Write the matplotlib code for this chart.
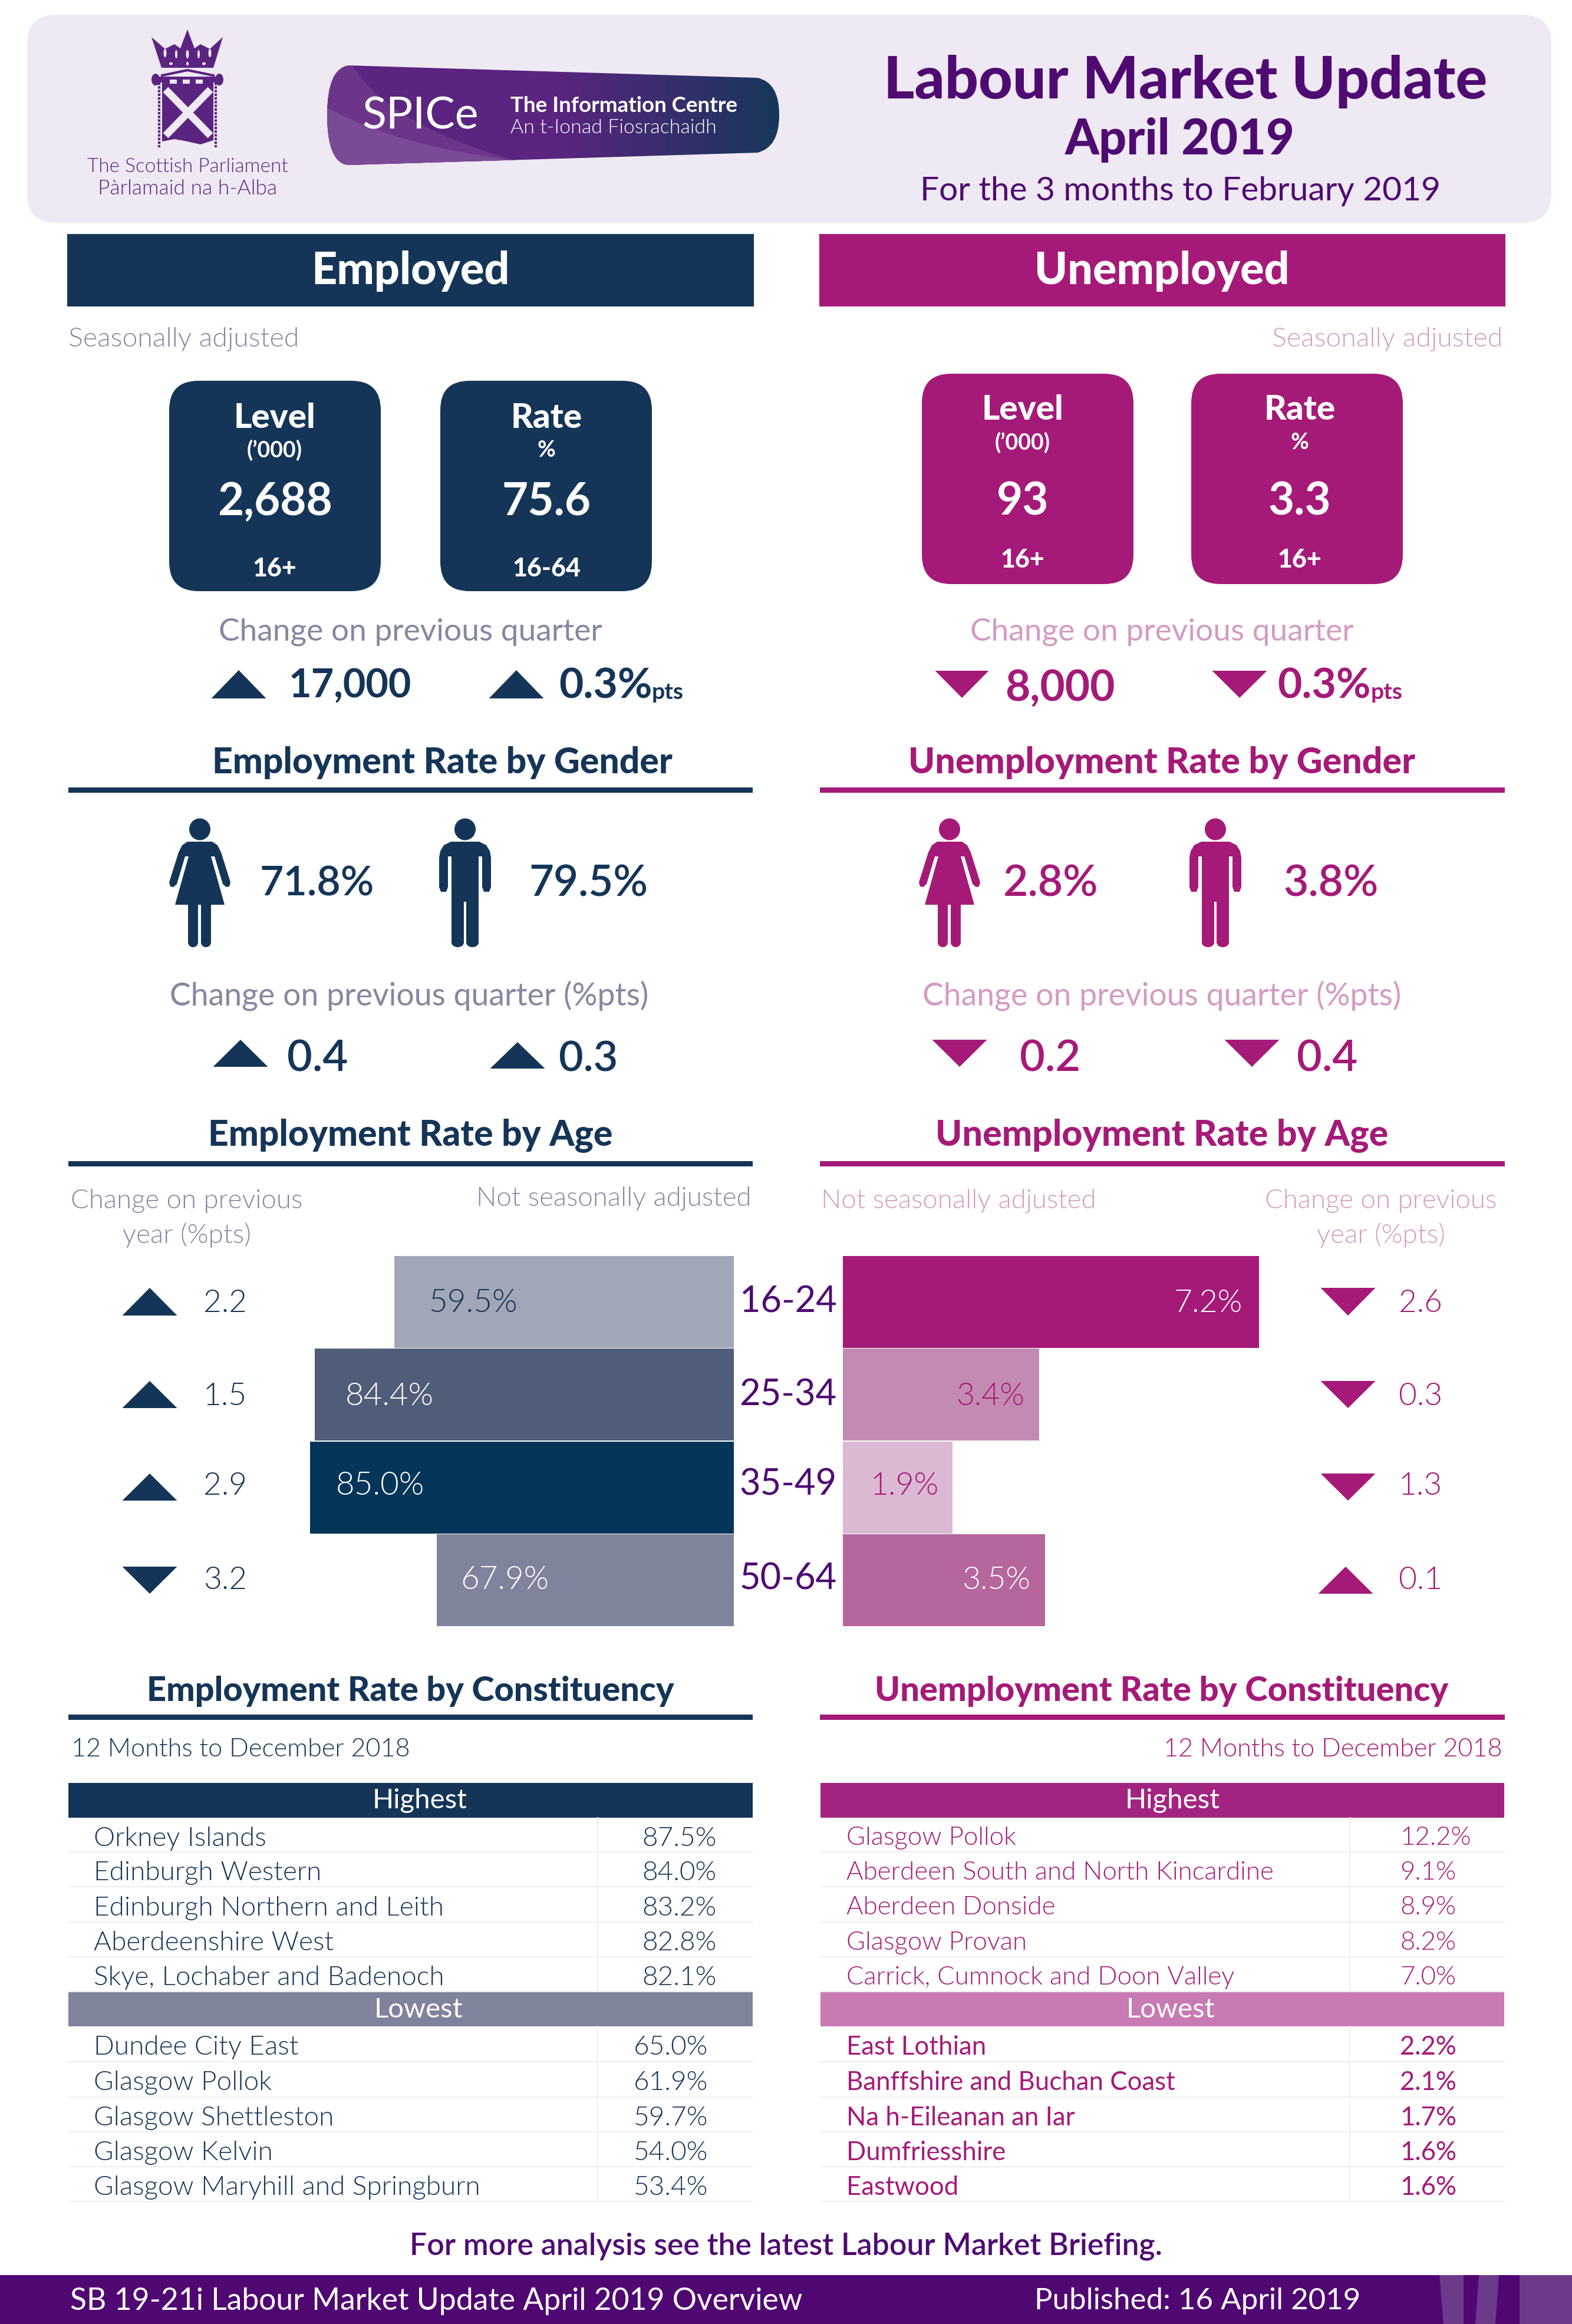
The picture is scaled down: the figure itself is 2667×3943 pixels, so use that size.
import os
import numpy as np
import matplotlib
matplotlib.use("Agg")
import matplotlib.pyplot as plt
from matplotlib import font_manager
from matplotlib.font_manager import FontProperties
from matplotlib.patches import FancyBboxPatch, Polygon, Rectangle, Ellipse, PathPatch
from matplotlib.path import Path
from matplotlib.colors import LinearSegmentedColormap

plt.rcParams["font.family"] = ["Lato", "DejaVu Sans"]

# ---------------------------------------------------------
# data
# ---------------------------------------------------------

emp_level = "2,688"
emp_rate = "75.6"
unemp_level = "93"
unemp_rate = "3.3"

emp_gender = ["71.8%", "79.5%"]
unemp_gender = ["2.8%", "3.8%"]
emp_gender_change = [0.4, 0.3]
unemp_gender_change = [-0.2, -0.4]

age_groups = ["16-24", "25-34", "35-49", "50-64"]

# bar lengths as drawn, the printed labels of the first and last row differ from them
emp_age_bars = [68.1, 84.0, 85.0, 59.6]
emp_age_labels = ["59.5%", "84.4%", "85.0%", "67.9%"]
emp_age_change = [2.2, 1.5, 2.9, -3.2]

unemp_age_bars = [7.2, 3.4, 1.9, 3.5]
unemp_age_labels = ["7.2%", "3.4%", "1.9%", "3.5%"]
unemp_age_change = [-2.6, -0.3, -1.3, 0.1]

emp_high_names = ["Orkney Islands", "Edinburgh Western", "Edinburgh Northern and Leith",
                  "Aberdeenshire West", "Skye, Lochaber and Badenoch"]
emp_high_vals = ["87.5%", "84.0%", "83.2%", "82.8%", "82.1%"]
emp_low_names = ["Dundee City East", "Glasgow Pollok", "Glasgow Shettleston",
                 "Glasgow Kelvin", "Glasgow Maryhill and Springburn"]
emp_low_vals = ["65.0%", "61.9%", "59.7%", "54.0%", "53.4%"]

unemp_high_names = ["Glasgow Pollok", "Aberdeen South and North Kincardine", "Aberdeen Donside",
                    "Glasgow Provan", "Carrick, Cumnock and Doon Valley"]
unemp_high_vals = ["12.2%", "9.1%", "8.9%", "8.2%", "7.0%"]
unemp_low_names = ["East Lothian", "Banffshire and Buchan Coast", "Na h-Eileanan an Iar",
                   "Dumfriesshire", "Eastwood"]
unemp_low_vals = ["2.2%", "2.1%", "1.7%", "1.6%", "1.6%"]

# colours
NAVY = "#143557"
MAGENTA = "#A51A78"
PURPLE = "#4F0B72"
LOGO = "#5B2480"
GREY = "#8488A0"
PINK = "#D49BC4"
emp_bar_colors = ["#A2A7B7", "#4F5D79", "#053558", "#80839C"]
unemp_bar_colors = ["#A51A78", "#C48BB2", "#DBB9D2", "#B5669C"]

# Lato weights by file, asking for "light" by name lands on the hairline cut
font_files = {}
for entry in font_manager.fontManager.ttflist:
    font_files[os.path.basename(entry.fname)] = entry.fname
WEIGHT_FILES = {"light": "Lato-Light.ttf", "medium": "Lato-Medium.ttf", "semibold": "Lato-Semibold.ttf",
                "black": "Lato-Heavy.ttf"}

# ---------------------------------------------------------
# page, one overlay axes in pixel units
# ---------------------------------------------------------

fig = plt.figure(figsize=(26.67, 39.43), dpi=100, facecolor="white")
ax = fig.add_axes([0, 0, 1, 1], zorder=5)
ax.set_axis_off()
renderer = fig.canvas.get_renderer()


def txt(x, y, s, size=30, color=NAVY, ha="left", weight="normal", w=None):
    y = y + 5
    fname = font_files.get(WEIGHT_FILES.get(weight, ""))
    if fname:
        t = ax.text(x, y, s, color=color, ha=ha, va="center", fontproperties=FontProperties(fname=fname, size=size))
    else:
        fallback = "normal" if weight in WEIGHT_FILES else weight
        t = ax.text(x, y, s, fontsize=size, color=color, ha=ha, va="center", fontweight=fallback)
    if w is not None:
        # scale the font so the string covers the width seen in the picture
        have = t.get_window_extent(renderer).width
        t.set_fontsize(size * w / have)
    return t


def tri(cx, y0, y1, width, up, color):
    if up:
        pts = [(cx - width / 2, y1), (cx + width / 2, y1), (cx, y0)]
    else:
        pts = [(cx - width / 2, y0), (cx + width / 2, y0), (cx, y1)]
    ax.add_patch(Polygon(pts, closed=True, fc=color, ec="none"))


def box(x0, y0, x1, y1, color, r=50):
    ax.add_patch(FancyBboxPatch((x0 + r, y0 + r), x1 - x0 - 2 * r, y1 - y0 - 2 * r,
                                boxstyle=f"round,pad={r},rounding_size={r}", fc=color, ec="none"))


def rect(x0, y0, x1, y1, color):
    ax.add_patch(Rectangle((x0, y0), x1 - x0, y1 - y0, fc=color, ec="none"))


def leg(x0, x1, y0, y1, color):
    rect(x0, y0, x1, y1 - 8, color)
    ax.add_patch(Ellipse(((x0 + x1) / 2, y1 - 8), x1 - x0, 16, fc=color, ec="none"))


def woman(cx, color):
    ax.add_patch(Ellipse((cx, 1407), 36, 37, fc=color, ec="none"))
    half = [(0, 1428), (21, 1428), (30, 1434), (36, 1446), (52, 1497), (50, 1504), (45, 1505),
            (39, 1500), (25, 1453), (19, 1453), (42, 1535)]
    right = [(cx + dx, y) for dx, y in half]
    left = [(cx - dx, y) for dx, y in half[::-1]]
    ax.add_patch(Polygon(right + left[:-1], closed=True, fc=color, ec="none"))
    leg(cx - 20, cx - 3, 1530, 1607, color)
    leg(cx + 2, cx + 19, 1530, 1607, color)


def man(cx, color):
    ax.add_patch(Ellipse((cx, 1407), 36, 37, fc=color, ec="none"))
    half = [(0, 1428), (24, 1428), (36, 1434), (42, 1444), (44, 1455), (44, 1505), (41, 1513), (32, 1513),
            (29, 1505), (29, 1453), (23, 1453), (23, 1530)]
    right = [(cx + dx, y) for dx, y in half]
    left = [(cx - dx, y) for dx, y in half[::-1]]
    ax.add_patch(Polygon(right + left[:-1], closed=True, fc=color, ec="none"))
    leg(cx - 23, cx - 2, 1513, 1607, color)
    leg(cx + 2, cx + 23, 1513, 1607, color)


# ---------------------------------------------------------
# header panel and logos
# ---------------------------------------------------------

box(46, 25, 2632, 378, "#EFE9F4", r=50)

# crown
crown = [(257, 63), (280, 83), (296, 75), (306, 82), (318, 50), (330, 82), (340, 75), (356, 83), (378, 63),
         (362, 115), (274, 115)]
ax.add_patch(Polygon(crown, closed=True, fc=LOGO, ec="none"))
for dx, dy, rx, ry in [(-38, 90, 5, 9), (-19, 92, 4, 9), (0, 92, 5, 9), (19, 92, 4, 9), (38, 90, 5, 9),
                       (-28, 108, 6, 3), (0, 108, 4, 4), (28, 108, 6, 3)]:
    ax.add_patch(Ellipse((318 + dx, dy), rx, ry * 1.6, fc="#EFE9F4", ec="none"))
ax.plot([275, 318, 362], [128, 119, 128], color=LOGO, lw=3)
rect(266, 130, 370, 140, LOGO)
for x in [264, 372]:
    ax.add_patch(Ellipse((x, 135), 14, 20, fc=LOGO, ec="none"))
    ax.plot([x + (6 if x < 300 else -6)] * 2, [140, 250], color=LOGO, lw=3, ls=(0, (1, 0.5)))
ax.add_patch(Polygon([(275, 135), (362, 135), (362, 238), (340, 245), (318, 240), (296, 236), (275, 240)],
                     closed=True, fc=LOGO, ec="none"))
for x in [288, 310, 332]:
    rect(x, 135, x + 12, 142, "#EFE9F4")
ax.plot([281, 357], [152, 230], color="#EFE9F4", lw=9, solid_capstyle="butt")
ax.plot([357, 281], [152, 230], color="#EFE9F4", lw=9, solid_capstyle="butt")
txt(318, 278, "The Scottish Parliament", color=LOGO, ha="center", weight="light", w=340)
txt(318, 315, "Pàrlamaid na h-Alba", color=LOGO, ha="center", weight="light", w=303)

# spice banner
verts = [(592, 111), (1285, 132), (1322, 140), (1322, 195), (1322, 250), (1285, 259), (590, 280),
         (555, 275), (555, 195), (555, 116), (592, 111)]
codes = [Path.MOVETO, Path.LINETO, Path.CURVE3, Path.CURVE3, Path.CURVE3, Path.CURVE3, Path.LINETO,
         Path.CURVE3, Path.CURVE3, Path.CURVE3, Path.CURVE3]
banner = PathPatch(Path(verts, codes), fc="none", ec="none")
ax.add_patch(banner)
spice_cmap = LinearSegmentedColormap.from_list("spice", ["#5B2480", "#5B2480", "#17375A"])
im = ax.imshow(np.linspace(0, 1, 256).reshape(1, -1), cmap=spice_cmap, extent=(555, 1322, 280, 111),
               aspect="auto", zorder=2)
im.set_clip_path(banner)
shade = PathPatch(Path([(555, 100), (592, 100), (650, 210), (875, 272), (555, 290), (555, 100)],
                       [Path.MOVETO, Path.LINETO, Path.CURVE3, Path.CURVE3, Path.LINETO, Path.CLOSEPOLY]),
                  fc="#6C3589", ec="none", zorder=2.1)
ax.add_patch(shade)
shade.set_clip_path(banner)
shade2 = PathPatch(Path([(555, 183), (680, 250), (875, 272), (555, 290), (555, 183)],
                        [Path.MOVETO, Path.CURVE3, Path.CURVE3, Path.LINETO, Path.CLOSEPOLY]),
                   fc="#7B4A97", ec="none", zorder=2.2)
ax.add_patch(shade2)
shade2.set_clip_path(banner)
txt(615, 192, "SPICe", color="white", w=197)
txt(866, 175, "The Information Centre", color="white", weight="bold", w=386)
txt(866, 212, "An t-Ionad Fiosrachaidh", color="white", weight="light", w=350)

txt(2011, 133, "Labour Market Update", color=PURPLE, ha="center", weight="black", w=1023)
txt(2002, 233, "April 2019", color=PURPLE, ha="center", weight="black", w=390)
txt(2002, 319, "For the 3 months to February 2019", color=PURPLE, ha="center", w=882)

# ---------------------------------------------------------
# top blocks
# ---------------------------------------------------------

rect(114, 397, 1279, 520, NAVY)
rect(1390, 397, 2554, 520, MAGENTA)
txt(696, 455, "Employed", color="white", ha="center", weight="black", w=336)
txt(1971, 455, "Unemployed", color="white", ha="center", weight="black", w=432)

txt(116, 570, "Seasonally adjusted", color=GREY, weight="light", w=390)
txt(2550, 570, "Seasonally adjusted", color=PINK, ha="right", weight="light", w=390)


def stat_card(x0, x1, y0, color, title, sub, value, base, cx, ys):
    box(x0, y0, x1, y0 + 357, color, r=50)
    txt(cx, ys[0], title, color="white", ha="center", weight="black", size=42)
    txt(cx, ys[1], sub, color="white", ha="center", weight="bold", size=27)
    txt(cx, ys[2], value, color="white", ha="center", weight="bold", size=55)
    txt(cx, ys[3], base, color="white", ha="center", weight="black", size=31)


stat_card(287, 646, 646, NAVY, "Level", "(’000)", emp_level, "16+", 466, (704, 759, 847, 960))
stat_card(747, 1106, 646, NAVY, "Rate", "%", emp_rate, "16-64", 927, (704, 759, 847, 960))
stat_card(1564, 1923, 634, MAGENTA, "Level", "(’000)", unemp_level, "16+", 1735, (691, 746, 847, 945))
stat_card(2021, 2380, 634, MAGENTA, "Rate", "%", unemp_rate, "16+", 2205, (691, 746, 847, 945))

txt(696, 1067, "Change on previous quarter", color=GREY, ha="center", w=650)
txt(1971, 1067, "Change on previous quarter", color=PINK, ha="center", w=650)

tri(405, 1137, 1185, 93, True, NAVY)
txt(490, 1159, "17,000", weight="bold", w=208)
tri(876, 1137, 1185, 93, True, NAVY)
txt(948, 1159, "0.3%", weight="bold", w=158)
txt(1106, 1170, "pts", weight="bold", w=54)

tri(1632, 1138, 1184, 91, False, MAGENTA)
txt(1705, 1163, "8,000", color=MAGENTA, weight="bold", w=186)
tri(2103, 1138, 1184, 93, False, MAGENTA)
txt(2167, 1159, "0.3%", color=MAGENTA, weight="bold", w=158)
txt(2326, 1170, "pts", color=MAGENTA, weight="bold", w=54)


def heading(s, cx, y, color, w, rule_y, x0, x1):
    txt(cx, y - 1, s, color=color, ha="center", weight="black", w=w)
    rect(x0, rule_y - 4, x1, rule_y + 5, color)


heading("Employment Rate by Gender", 750, 1290, NAVY, 778, 1340, 116, 1277)
heading("Unemployment Rate by Gender", 1971, 1290, MAGENTA, 858, 1340, 1391, 2553)

woman(339, NAVY)
man(789, NAVY)
woman(1611, MAGENTA)
man(2062, MAGENTA)

txt(440, 1495, emp_gender[0], weight="semibold", w=194)
txt(897, 1495, emp_gender[1], weight="semibold", w=202)
txt(1702, 1495, unemp_gender[0], color=MAGENTA, weight="semibold", w=161)
txt(2177, 1495, unemp_gender[1], color=MAGENTA, weight="semibold", w=161)

txt(694, 1684, "Change on previous quarter (%pts)", color=GREY, ha="center", w=812)
txt(1971, 1684, "Change on previous quarter (%pts)", color=PINK, ha="center", w=812)


def change(cx, y0, y1, tx, val, color, w):
    tri(cx, y0, y1, 93, val > 0, color)
    txt(tx, 1792, f"{abs(val):.1f}", color=color, weight="semibold", w=w)


change(408, 1764, 1810, 487, emp_gender_change[0], NAVY, 103)
change(878, 1768, 1813, 948, emp_gender_change[1], NAVY, 100)
change(1628, 1764, 1810, 1730, unemp_gender_change[0], MAGENTA, 103)
change(2124, 1764, 1810, 2200, unemp_gender_change[1], MAGENTA, 103)

# ---------------------------------------------------------
# age block, the bars are real bar charts on their own scales
# ---------------------------------------------------------

heading("Employment Rate by Age", 696, 1923, NAVY, 684, 1974, 116, 1277)
heading("Unemployment Rate by Age", 1971, 1923, MAGENTA, 765, 1974, 1391, 2553)

txt(317, 2033, "Change on previous", color=GREY, ha="center", weight="light", w=392)
txt(317, 2091, "year (%pts)", color=GREY, ha="center", weight="light", w=218)
txt(1275, 2028, "Not seasonally adjusted", color=GREY, ha="right", weight="light", w=467)
txt(1393, 2033, "Not seasonally adjusted", color=PINK, weight="light", w=467)
txt(2343, 2033, "Change on previous", color=PINK, ha="center", weight="light", w=392)
txt(2343, 2091, "year (%pts)", color=PINK, ha="center", weight="light", w=218)

PAGE_W, PAGE_H = 2667, 3943
BAR_TOP, BAR_BOTTOM = 2130, 2760


def bar_axes(x0, x1):
    a = fig.add_axes([x0 / PAGE_W, 1 - BAR_BOTTOM / PAGE_H, (x1 - x0) / PAGE_W, (BAR_BOTTOM - BAR_TOP) / PAGE_H],
                     zorder=1)
    a.set_axis_off()
    return a


ax_emp = bar_axes(399, 1245)
ax_emp.barh(age_groups, emp_age_bars, height=0.99, color=emp_bar_colors)
ax_emp.set_xlim(100, 0)
ax_emp.set_ylim(3.5, -0.5)

ax_unemp = bar_axes(1430, 2214)
ax_unemp.barh(age_groups, unemp_age_bars, height=0.99, color=unemp_bar_colors)
ax_unemp.set_xlim(0, 8)
ax_unemp.set_ylim(3.5, -0.5)

row_y = [2206, 2364, 2516, 2676]
tri_y = [(2185, 2232), (2343, 2389), (2500, 2546), (2658, 2704)]
emp_label_x = [727, 586, 570, 781]
emp_label_colors = [NAVY, "white", "white", "white"]
unemp_label_right = [2108, 1738, 1593, 1748]
unemp_label_colors = ["white", MAGENTA, MAGENTA, "white"]

for i in range(4):
    txt(emp_label_x[i], row_y[i], emp_age_labels[i], color=emp_label_colors[i], weight="light", w=150)
    txt(unemp_label_right[i], row_y[i], unemp_age_labels[i], color=unemp_label_colors[i], ha="right",
        weight="light", w=116)
    txt(1337, row_y[i] - 2, age_groups[i], color=PURPLE, ha="center", w=165)

    up = emp_age_change[i] > 0
    tri(254, tri_y[i][0], tri_y[i][1], 93, up, NAVY)
    txt(345, row_y[i], f"{abs(emp_age_change[i]):.1f}", weight="light", w=74)

    up = unemp_age_change[i] > 0
    tri(2283 if up else 2287, tri_y[i][0], tri_y[i][1], 93, up, MAGENTA)
    txt(2373, row_y[i], f"{abs(unemp_age_change[i]):.1f}", color=MAGENTA, weight="light", w=74)

# ---------------------------------------------------------
# constituency tables
# ---------------------------------------------------------

heading("Employment Rate by Constituency", 696, 2866, NAVY, 892, 2913, 116, 1277)
heading("Unemployment Rate by Constituency", 1971, 2866, MAGENTA, 972, 2913, 1391, 2553)
txt(121, 2964, "12 Months to December 2018", weight="light", w=575)
txt(2549, 2964, "12 Months to December 2018", color=MAGENTA, ha="right", weight="light", w=575)


def table_part(y_rows, names, vals, x0, x1, div, xname, xval, val_ha, color, weight, size):
    for j in range(5):
        y0, y1 = y_rows[j], y_rows[j + 1]
        ax.plot([x0, x1], [y1, y1], color="#F0EDF2", lw=1.5)
        txt(xname, (y0 + y1) / 2 + 1, names[j], size=size, color=color, weight=weight)
        txt(xval, (y0 + y1) / 2 + 1, vals[j], size=size, color=color, ha=val_ha, weight=weight)
    ax.plot([div, div], [y_rows[0], y_rows[5]], color="#F0EDF2", lw=1.5)


high_rows = [3084, 3142, 3201, 3261, 3320, 3379]
low_rows = [3438, 3498, 3558, 3617, 3676, 3735]

rect(116, 3025, 1277, 3084, NAVY)
txt(712, 3050, "Highest", color="white", ha="center", size=34)
rect(116, 3379, 1277, 3438, "#80839C")
txt(710, 3405, "Lowest", color="white", ha="center", size=34)
table_part(high_rows, emp_high_names, emp_high_vals, 116, 1277, 1014, 159, 1089, "left", NAVY, "light", 33)
table_part(low_rows, emp_low_names, emp_low_vals, 116, 1277, 1014, 159, 1201, "right", NAVY, "light", 33)

rect(1392, 3025, 2552, 3084, "#A32480")
txt(1989, 3050, "Highest", color="white", ha="center", size=34)
rect(1392, 3379, 2552, 3438, "#C87AB3")
txt(1986, 3405, "Lowest", color="white", ha="center", size=34)
table_part(high_rows, unemp_high_names, unemp_high_vals, 1392, 2552, 2290, 1436, 2375, "left", MAGENTA, "light", 31.5)
table_part(low_rows, unemp_low_names, unemp_low_vals, 1392, 2552, 2290, 1436, 2375, "left", MAGENTA, "normal", 31.5)

# ---------------------------------------------------------
# footer
# ---------------------------------------------------------

txt(1333, 3806, "For more analysis see the latest Labour Market Briefing.", color=PURPLE, ha="center",
    weight="semibold", w=1275)
rect(0, 3860, 2667, 3943, "#4F0772")
for pts in [[(2442, 3860), (2483, 3860), (2483, 3943), (2449, 3943)],
            [(2509, 3860), (2543, 3860), (2537, 3943), (2503, 3943)],
            [(2578, 3860), (2667, 3860), (2667, 3943), (2578, 3943)]]:
    ax.add_patch(Polygon(pts, closed=True, fc="#6D3A8B", ec="none"))
txt(119, 3899, "SB 19-21i Labour Market Update April 2019 Overview", color="white", w=1241)
txt(1755, 3899, "Published: 16 April 2019", color="white", w=553)

ax.set_xlim(0, PAGE_W)
ax.set_ylim(PAGE_H, 0)

fig.savefig("out.png", dpi=100)
